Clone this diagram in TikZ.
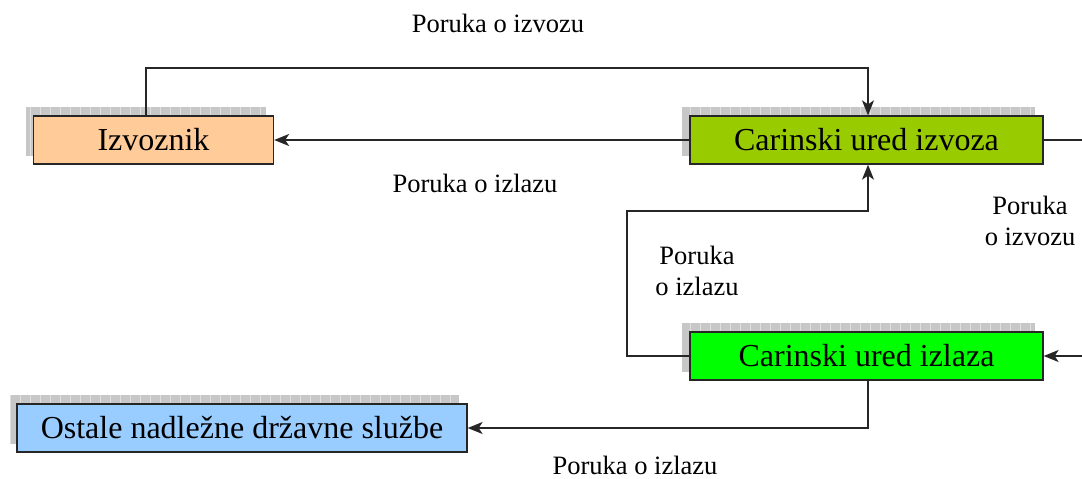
\documentclass[tikz,border=0pt]{standalone}
\usepackage{fontspec}
\setmainfont{Liberation Serif}
\usetikzlibrary{arrows.meta}
\tikzset{
  box/.style={draw=black!85, line width=1.3pt, minimum height=48pt, inner sep=0pt, font=\fontsize{32}{36}\selectfont},
  lbl/.style={font=\fontsize{26.5}{31}\selectfont, align=center, inner sep=0pt},
  conn/.style={line width=1.4pt, draw=black!85},
  arr/.style={conn, -{Stealth[length=15pt,width=12pt,inset=4pt]}},
  shadowbox/.style={fill=black!22},
}
\newcommand{\shadowrect}[4]{%
  \fill[shadowbox] (#1,#2) rectangle (#3,#4);
  \begin{scope}
    \clip (#1,#2) rectangle (#3,#4);
    \draw[white!75!gray, line width=0.6pt, xstep=10, ystep=10] (#1,#2) grid (#3,#4);
  \end{scope}}
\begin{document}
\begin{tikzpicture}[x=1pt,y=-1pt]
\useasboundingbox (0,0) rectangle (1082,479);
% shadows
\shadowrect{26}{107}{266}{156}
\shadowrect{682}{107}{1035}{156}
\shadowrect{682}{323}{1035}{372}
\shadowrect{10}{395}{459}{444}
% boxes
\node[box, fill={rgb,255:red,255;green,204;blue,153}, minimum width=240pt] (izv) at (153.5,140) {Izvoznik};
\node[box, fill={rgb,255:red,153;green,204;blue,0}, minimum width=353pt] (cui) at (866.5,140) {Carinski ured izvoza};
\node[box, fill={rgb,255:red,0;green,255;blue,0}, minimum width=353pt] (cul) at (866.5,356) {Carinski ured izlaza};
\node[box, fill={rgb,255:red,153;green,204;blue,255}, minimum width=450pt] (ost) at (242,428) {Ostale nadležne državne službe};
% helper coordinates
\coordinate (rEdgeTop) at (1082,140);
\coordinate (rEdgeBot) at (1082,356);
% connectors
\draw[arr] (izv.north -| 146,0) -- (146,68) -- (868,68) -- (cui.north -| 868,0);
\draw[arr] (cui.west) -- (izv.east);
\draw[conn] (cui.east) -- (rEdgeTop);
\draw[arr] (rEdgeBot) -- (cul.east);
\draw[arr] (cul.west) -- (627,356) -- (627,211) -- (868,211) -- (cui.south -| 868,0);
\draw[arr] (cul.south -| 868,0) -- (868,428) -- (ost.east);
% labels
\node[lbl] (l1) at (498,23) {Poruka o izvozu};
\node[lbl] (l2) at (475,183) {Poruka o izlazu};
\node[lbl] (l3) at (1030,221) {Poruka\\o izvozu};
\node[lbl] (l4) at (697,271) {Poruka\\o izlazu};
\node[lbl] (l5) at (635,465) {Poruka o izlazu};
\end{tikzpicture}
\end{document}
